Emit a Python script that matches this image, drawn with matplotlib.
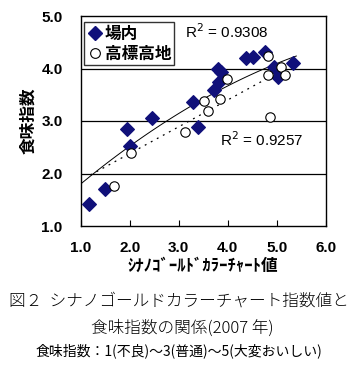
import numpy as np
import matplotlib
matplotlib.use("Agg")
import matplotlib.pyplot as plt
from matplotlib.lines import Line2D

plt.rcParams['font.family'] = ['Noto Sans CJK JP', 'DejaVu Sans']

# 場内 (diamonds)
jonai_x = [1.17, 1.49, 1.95, 2.00, 2.45, 3.30, 3.39, 3.73, 3.83, 3.81, 3.86, 4.37, 4.51, 4.77, 4.95, 5.02, 5.33]
jonai_y = [1.42, 1.70, 2.85, 2.52, 3.06, 3.36, 2.89, 3.59, 3.75, 3.99, 3.93, 4.20, 4.22, 4.32, 4.02, 3.83, 4.10]
# 高標高地 (circles)
koh_x = [1.67, 2.02, 3.12, 3.52, 3.59, 3.85, 3.99, 4.82, 4.82, 4.87, 5.09, 5.17]
koh_y = [1.77, 2.40, 2.79, 3.38, 3.19, 3.42, 3.80, 4.24, 3.87, 3.07, 4.03, 3.87]

# trend lines (polynomial coefficients, highest power first)
trend_jonai = [-0.0489, 0.867, 0.982]   # solid curve, x from 1.0 to 5.4
trend_jonai_range = [1.0, 5.4]
trend_koh = [0.51, 1.36]                # dotted line
trend_koh_range = [1.2, 5.17]

r2_jonai = "0.9308"
r2_koh = "0.9257"
xticks = [1.0, 2.0, 3.0, 4.0, 5.0, 6.0]
yticks = [1.0, 2.0, 3.0, 4.0, 5.0]

fig = plt.figure(figsize=(3.57, 3.89), dpi=100)
ax = fig.add_axes([80.7/357, 1-226/389, (325.7-80.7)/357, (226-16)/389])
ax.set_xlim(1, 6)
ax.set_ylim(1, 5)

for yv in [2, 3, 4]:
    ax.axhline(yv, color='black', lw=0.9, zorder=1)

xs1 = np.linspace(*trend_jonai_range, 100)
ax.plot(xs1, np.polyval(trend_jonai, xs1), color='black', lw=0.7, zorder=2)
xs2 = np.linspace(*trend_koh_range, 100)
ax.plot(xs2, np.polyval(trend_koh, xs2), color='black', lw=0.9, ls=(0, (1.5, 4)), zorder=2)

ax.scatter(jonai_x, jonai_y, marker='D', s=48, color='#10107a', edgecolors='#10107a', zorder=3)
ax.scatter(koh_x, koh_y, marker='o', s=46, facecolors='white', edgecolors='black', linewidths=0.8, zorder=4)

ax.set_xticks(xticks)
ax.set_yticks(yticks)
ax.set_xticklabels([f"{v:.1f}" for v in xticks], fontsize=11, fontweight='bold', family='Liberation Sans')
ax.set_yticklabels([f"{v:.1f}" for v in yticks], fontsize=11, fontweight='bold', family='Liberation Sans')
ax.tick_params(axis='x', direction='in', length=4, width=0.8, pad=11)
ax.tick_params(axis='y', length=0, pad=13)
for s in ax.spines.values():
    s.set_linewidth(1.0)

ax.set_ylabel("食味指数", fontsize=12, fontweight='bold', labelpad=3)
ax.set_xlabel("ｼﾅﾉｺﾞｰﾙﾄﾞｶﾗｰﾁｬｰﾄ値", fontsize=12, fontweight='bold', labelpad=1)

handles = [Line2D([], [], marker='D', color='#10107a', ls='none', markersize=7),
           Line2D([], [], marker='o', markerfacecolor='white', markeredgecolor='black', ls='none', markersize=7, markeredgewidth=0.8)]
leg = ax.legend(handles, ["場内", "高標高地"], loc='upper left', bbox_to_anchor=(0.0, 0.985),
                prop={'size': 12, 'weight': 'bold'}, frameon=True, fancybox=False,
                edgecolor='black', borderpad=0.15, handletextpad=0.1, handlelength=1.0,
                labelspacing=0.12, borderaxespad=0.2)
leg.get_frame().set_linewidth(1.0)

ax.text(3.99, 4.70, "R$^2$ = " + r2_jonai, fontsize=11, ha='center', va='center', family='Liberation Sans')
ax.text(4.70, 2.65, "R$^2$ = " + r2_koh, fontsize=11, ha='center', va='center', family='Liberation Sans')

fig.text(0.5, 1-301/389, "図２  シナノゴールドカラーチャート指数値と", fontsize=12, ha='center', va='center', fontweight='light')
fig.text(0.51, 1-328/389, "食味指数の関係(2007 年)", fontsize=12, ha='center', va='center', fontweight='light')
fig.text(0.5, 1-351/389, "食味指数：1(不良)～3(普通)～5(大変おいしい)", fontsize=10, ha='center', va='center')

fig.savefig("out.png", dpi=100)
